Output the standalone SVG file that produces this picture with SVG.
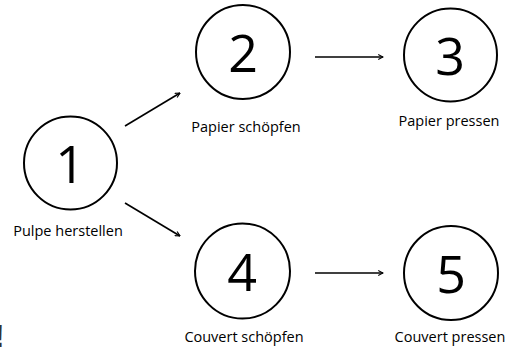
<svg xmlns="http://www.w3.org/2000/svg" width="516" height="347" viewBox="0 0 516 347">
<style>
.c{fill:#fff;stroke:#000;stroke-width:2}
.n{font-family:"Open Sans","Liberation Sans",sans-serif;font-size:52px;text-anchor:middle;fill:#000}
.l{font-family:"Open Sans","Liberation Sans",sans-serif;font-size:14.5px;text-anchor:middle;fill:#000}
.a{stroke:#000;stroke-width:1.6;fill:none;marker-end:url(#ah)}
</style>
<defs>
<marker id="ah" viewBox="0 0 10 10" refX="9" refY="5" markerWidth="6" markerHeight="6" markerUnits="userSpaceOnUse" orient="auto">
<path d="M1,1 L9,5 L1,9" fill="none" stroke="#000" stroke-width="1.8"/>
</marker>
</defs>
<rect width="516" height="347" fill="#fff"/>
<g id="connectors">
<line class="a" x1="125" y1="126" x2="180" y2="93"/>
<line class="a" x1="125" y1="203" x2="180" y2="236"/>
<line class="a" x1="315" y1="57" x2="383" y2="57"/>
<line class="a" x1="315" y1="273" x2="383" y2="273"/>
</g>
<g id="node1">
<circle class="c" cx="70.5" cy="163" r="46.5"/>
<text class="n" x="70" y="183">1</text>
<text class="l" x="68" y="236">Pulpe herstellen</text>
</g>
<g id="node2">
<circle class="c" cx="243" cy="52" r="47"/>
<text class="n" x="243" y="72">2</text>
<text class="l" x="246" y="132">Papier schöpfen</text>
</g>
<g id="node3">
<circle class="c" cx="450.5" cy="55" r="46.5"/>
<text class="n" x="450" y="75">3</text>
<text class="l" x="449" y="126">Papier pressen</text>
</g>
<g id="node4">
<circle class="c" cx="242.5" cy="271" r="47.5"/>
<text class="n" x="242" y="291">4</text>
<text class="l" x="244" y="342">Couvert schöpfen</text>
</g>
<g id="node5">
<circle class="c" cx="451" cy="273" r="47"/>
<text class="n" x="451" y="293">5</text>
<text class="l" x="450" y="342">Couvert pressen</text>
</g>
<text x="-6" y="347" font-family="Liberation Sans,sans-serif" font-weight="bold" font-size="32" fill="#333">!</text>
</svg>
